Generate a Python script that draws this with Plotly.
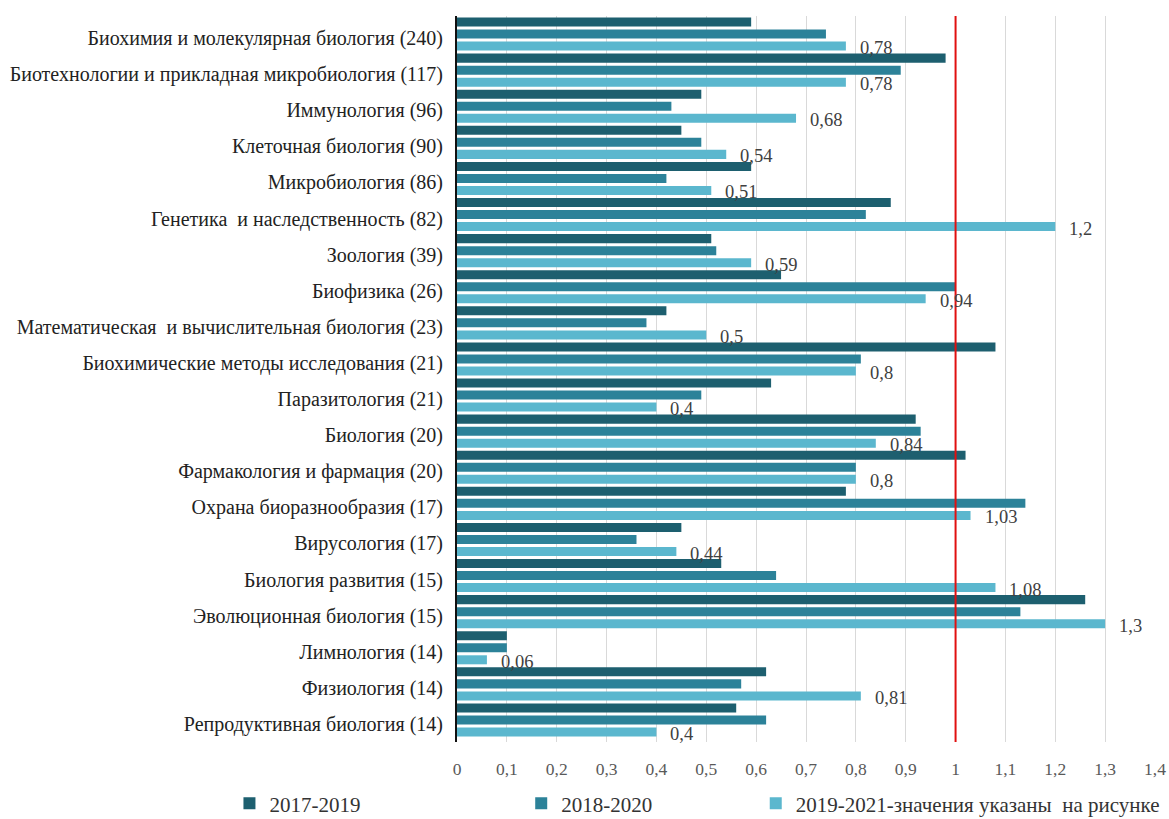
import plotly.graph_objects as go

# Scientific fields with publication counts
categories = [
    "Биохимия и молекулярная биология (240)",
    "Биотехнологии и прикладная микробиология (117)",
    "Иммунология (96)",
    "Клеточная биология (90)",
    "Микробиология (86)",
    "Генетика  и наследственность (82)",
    "Зоология (39)",
    "Биофизика (26)",
    "Математическая  и вычислительная биология (23)",
    "Биохимические методы исследования (21)",
    "Паразитология (21)",
    "Биология (20)",
    "Фармакология и фармация (20)",
    "Охрана биоразнообразия (17)",
    "Вирусология (17)",
    "Биология развития (15)",
    "Эволюционная биология (15)",
    "Лимнология (14)",
    "Физиология (14)",
    "Репродуктивная биология (14)",
]

values_2017_2019 = [0.59, 0.98, 0.49, 0.45, 0.59, 0.87, 0.51, 0.65, 0.42, 1.08,
                    0.63, 0.92, 1.02, 0.78, 0.45, 0.53, 1.26, 0.10, 0.62, 0.56]
values_2018_2020 = [0.74, 0.89, 0.43, 0.49, 0.42, 0.82, 0.52, 1.00, 0.38, 0.81,
                    0.49, 0.93, 0.80, 1.14, 0.36, 0.64, 1.13, 0.10, 0.57, 0.62]
values_2019_2021 = [0.78, 0.78, 0.68, 0.54, 0.51, 1.2, 0.59, 0.94, 0.5, 0.8,
                    0.4, 0.84, 0.8, 1.03, 0.44, 1.08, 1.3, 0.06, 0.81, 0.4]

series_names = ["2017-2019", "2018-2020", "2019-2021-значения указаны  на рисунке"]
series_colors = ["#1d5f6f", "#2c8299", "#5bb7ce"]

tick_values = [round(i * 0.1, 1) for i in range(15)]
tick_labels = ["0", "0,1", "0,2", "0,3", "0,4", "0,5", "0,6", "0,7", "0,8", "0,9",
               "1", "1,1", "1,2", "1,3", "1,4"]

SERIF = "Liberation Serif"

# Each series gets its own legend box so the entries can be spaced freely
legend_ids = ["legend", "legend2", "legend3"]
legend_x = [-0.326, 0.092, 0.428]

fig = go.Figure()
for name, vals, color, lid in zip(series_names,
                                  [values_2017_2019, values_2018_2020, values_2019_2021],
                                  series_colors, legend_ids):
    fig.add_trace(go.Bar(
        y=categories, x=vals, orientation="h", name=name, legend=lid,
        marker=dict(color=color, line=dict(width=0)),
    ))

# Value labels next to the 2019-2021 bars (third bar of each group)
n_series = len(series_names)
for i, v in enumerate(values_2019_2021):
    fig.add_annotation(
        x=v, y=i + 1.0 / n_series, xref="x", yref="y",
        text=f"{v:g}".replace(".", ","), showarrow=False,
        xanchor="left", yanchor="middle", xshift=12, yshift=-2,
        font=dict(family=SERIF, size=18.5, color="#404040"),
    )

# Reference line at 1
fig.add_shape(type="line", xref="x", yref="paper", x0=1, x1=1, y0=0, y1=1,
              line=dict(color="#e01010", width=2))

legend_style = dict(
    orientation="h", xanchor="left", y=-0.085, yanchor="middle",
    font=dict(family=SERIF, size=21, color="#333333"),
    itemclick=False, bgcolor="rgba(0,0,0,0)",
)

fig.update_layout(
    width=1169, height=819,
    margin=dict(l=457, r=14, t=16, b=77, autoexpand=False),
    paper_bgcolor="white", plot_bgcolor="white",
    barmode="group", bargap=0.0, bargroupgap=0.25,
    showlegend=True,
    legend=dict(x=legend_x[0], **legend_style),
    legend2=dict(x=legend_x[1], **legend_style),
    legend3=dict(x=legend_x[2], **legend_style),
    font=dict(family=SERIF),
)

fig.update_xaxes(
    range=[0, 1.4], tickvals=tick_values, ticktext=tick_labels,
    showgrid=True, gridcolor="#d9d9d9", gridwidth=1,
    zeroline=False, showline=False,
    tickfont=dict(family=SERIF, size=17.5, color="#595959"),
    ticks="", ticklabelstandoff=14,
)
fig.update_yaxes(
    autorange="reversed", showgrid=False, zeroline=False,
    showline=True, linecolor="#111111", linewidth=2,
    tickfont=dict(family=SERIF, size=20, color="#222222"),
    ticks="", ticklabelstandoff=8, ticklabelshift=-4,
)

fig.write_html("out.html")
